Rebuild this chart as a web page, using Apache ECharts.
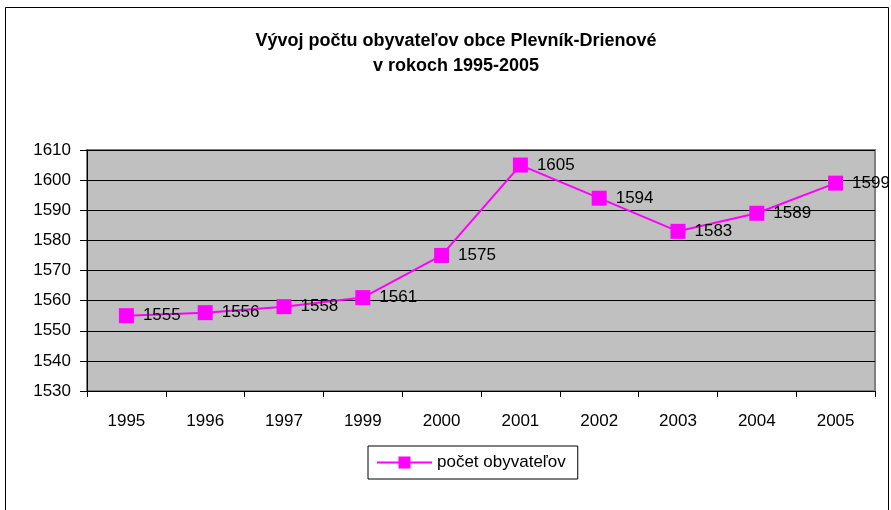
<!DOCTYPE html>
<html>
<head>
<meta charset="utf-8">
<script src="https://cdn.jsdelivr.net/npm/echarts@6/dist/echarts.min.js"></script>
<style>
	html, body { margin: 0; padding: 0; background: #fff; }
	#chart { width: 891px; height: 510px; }
</style>
</head>
<body>
<div id="chart"></div>
<script>
// roky (chýba 1998)
const years = ['1995', '1996', '1997', '1999', '2000', '2001', '2002', '2003', '2004', '2005'];
const population = [1555, 1556, 1558, 1561, 1575, 1605, 1594, 1583, 1589, 1599];
const seriesName = 'počet obyvateľov';

const font = '"Liberation Sans", Arial, sans-serif';
let myChart = echarts.init(document.getElementById('chart'));

let option = {
	backgroundColor: '#fff',
	animation: false,
	graphic: [{
		type: 'rect',
		shape: { x: 5.5, y: 7.5, width: 883, height: 520 },
		style: { fill: 'none', stroke: '#000', lineWidth: 1 },
		silent: true
	}],
	title: {
		text: 'Vývoj počtu obyvateľov obce Plevník-Drienové\nv rokoch 1995-2005',
		left: 451,
		top: 24,
		textAlign: 'center',
		textStyle: {
			fontFamily: font,
			fontSize: 18,
			fontWeight: 'bold',
			lineHeight: 25,
			color: '#000'
		}
	},
	legend: {
		data: [seriesName],
		left: 368,
		top: 446,
		itemWidth: 55,
		itemHeight: 15,
		itemGap: 4,
		padding: [8, 12, 8, 8],
		borderColor: '#000',
		borderWidth: 1,
		textStyle: { fontFamily: font, fontSize: 17, color: '#000' }
	},
	grid: {
		left: 87,
		right: 16,
		top: 150,
		bottom: 119,
		show: true,
		backgroundColor: '#c0c0c0',
		borderColor: '#808080',
		borderWidth: 2
	},
	xAxis: {
		type: 'category',
		data: years,
		boundaryGap: true,
		axisLine: { lineStyle: { color: '#000', width: 1 } },
		axisTick: { show: true, length: 6, lineStyle: { color: '#000' } },
		axisLabel: { fontFamily: font, fontSize: 17, color: '#000', margin: 22 }
	},
	yAxis: {
		type: 'value',
		min: 1530,
		max: 1610,
		interval: 10,
		axisLine: { show: true, lineStyle: { color: '#000', width: 1 } },
		axisTick: { show: true, length: 7, lineStyle: { color: '#000' } },
		axisLabel: {
			fontFamily: font, fontSize: 17, color: '#000', margin: 16,
			formatter: function(v) { return String(v); }
		},
		splitLine: { show: true, lineStyle: { color: '#000', width: 1 } }
	},
	series: [{
		name: seriesName,
		type: 'line',
		data: population,
		symbol: 'rect',
		symbolSize: 15,
		itemStyle: { color: '#ff00ff' },
		lineStyle: { color: '#ff00ff', width: 2 },
		label: {
			show: true,
			position: 'right',
			distance: 9,
			fontFamily: font,
			fontSize: 17,
			color: '#000'
		}
	}]
};

option && myChart.setOption(option);
</script>
</body>
</html>
